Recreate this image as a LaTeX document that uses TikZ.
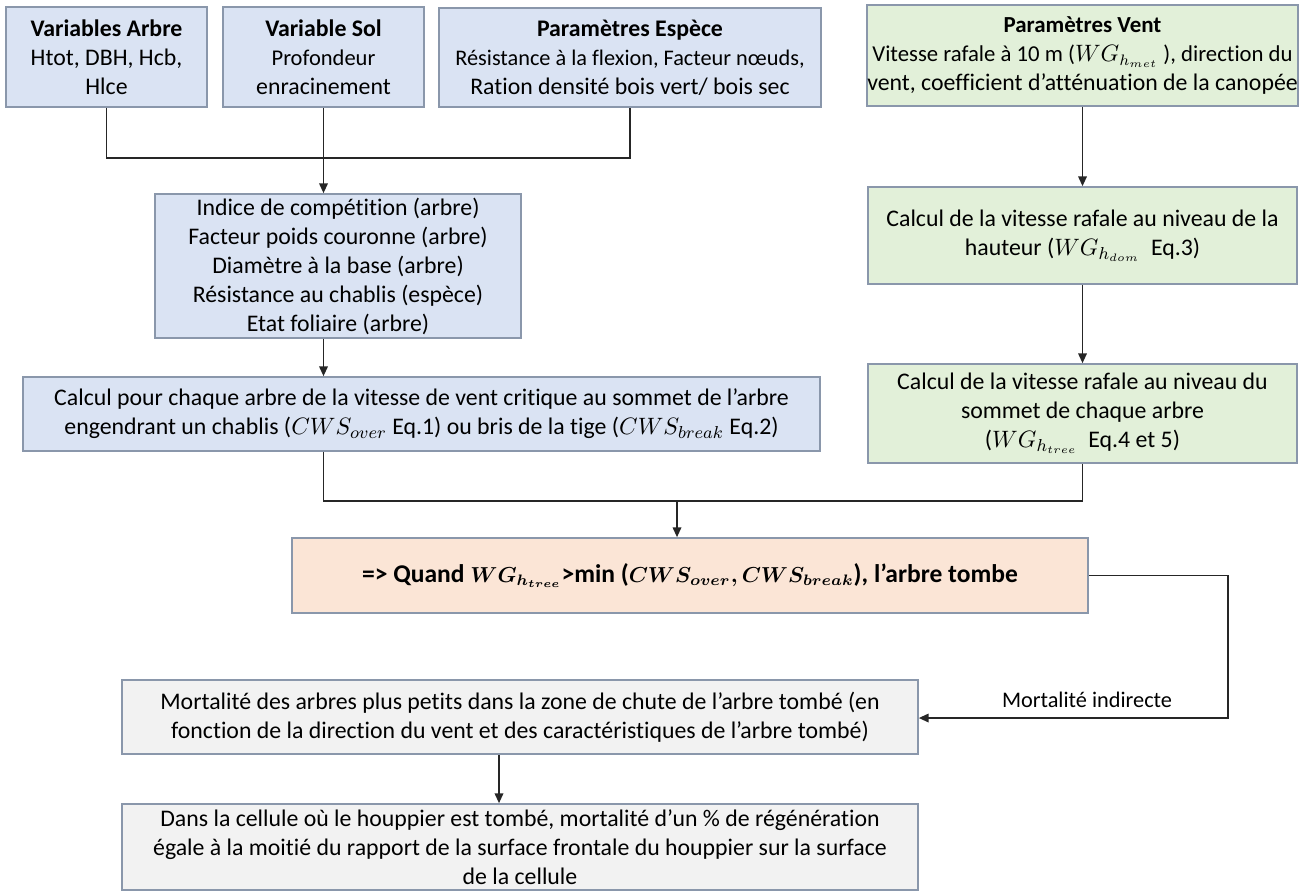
\documentclass[tikz,border=0pt]{standalone}
\usepackage{fontspec}
\setmainfont{Carlito}[Ligatures=NoCommon]
\usepackage{amsmath}
\usepackage{tikz}
\usetikzlibrary{arrows.meta}
\definecolor{bleuboite}{HTML}{DAE3F3}
\definecolor{vertboite}{HTML}{E2F0D9}
\definecolor{orangeboite}{HTML}{FBE5D6}
\definecolor{grisboite}{HTML}{F2F2F2}
\definecolor{bordboite}{HTML}{8A97AB}
\newcommand{\px}{0.462pt}
\newcommand{\petit}{\fontsize{10.4}{13.4}\selectfont}
\newcommand{\petitmath}{\fontsize{9.8}{13.4}\selectfont}

\begin{document}
\begin{tikzpicture}[x=0.462pt,y=-0.462pt,
    boite/.style={draw=bordboite,line width=0.8pt,align=center,inner sep=0pt,font=\fontsize{11}{13.4}\selectfont},
    lien/.style={line width=0.6pt,color=black!85},
    fleche/.style={lien,-{Triangle[length=4.5pt,width=4pt]}}]
    \useasboundingbox (0,0) rectangle (1301,892);
    \node[boite,fill=bleuboite,minimum width=201*\px,minimum height=100*\px](arbre)at(106.5,57){\textbf{Variables Arbre}\\Htot, DBH, Hcb,\\Hlce};
    \node[boite,fill=bleuboite,minimum width=201*\px,minimum height=100*\px](sol)at(323.5,57){\textbf{Variable Sol}\\\petit Profondeur\\enracinement};
    \node[boite,fill=bleuboite,minimum width=382*\px,minimum height=99*\px](espece)at(630,57.5){\textbf{Paramètres Espèce}\\\fontsize{10.3}{13.4}\selectfont Résistance à la flexion, Facteur nœuds,\\Ration densité bois vert/ bois sec};
    \node[boite,fill=vertboite,minimum width=429*\px,minimum height=101*\px](vent)at(1082.5,55.5){\fontsize{10.6}{13.4}\selectfont\textbf{Paramètres Vent}\\\fontsize{10.5}{13.4}\selectfont Vitesse rafale à 10 m ($WG_{h_{met}}$ ), direction du\\vent, coefficient d’atténuation de la canopée};
    \node[boite,fill=bleuboite,minimum width=366*\px,minimum height=144*\px](indices)at(338,266){Indice de compétition (arbre)\\Facteur poids couronne (arbre)\\Diamètre à la base (arbre)\\Résistance au chablis (espèce)\\Etat foliaire (arbre)};
    \node[boite,fill=bleuboite,minimum width=797*\px,minimum height=74*\px](critique)at(421.5,414){Calcul pour chaque arbre de la vitesse de vent critique au sommet de l’arbre\\engendrant un chablis ($CWS_{over}$ Eq.1) ou bris de la tige ($CWS_{break}$ Eq.2)};
    \node[boite,fill=vertboite,minimum width=429*\px,minimum height=97*\px](hauteur)at(1082.5,235.5){Calcul de la vitesse rafale au niveau de la\\hauteur ($WG_{h_{dom}}$\ \ Eq.3)};
    \node[boite,fill=vertboite,minimum width=429*\px,minimum height=99*\px](sommet)at(1082.5,413.5){Calcul de la vitesse rafale au niveau du\\sommet de chaque arbre\\($WG_{h_{tree}}$\ \ Eq.4 et 5)};
    \node[boite,fill=orangeboite,minimum width=796*\px,minimum height=75*\px,font=\fontsize{11.8}{15}\selectfont\bfseries\boldmath](chute)at(690,575.5){=\textgreater{} Quand {\petitmath$WG_{h_{tree}}$}\textgreater{}min ({\petitmath$CWS_{over}, CWS_{break}$}), l’arbre tombe};
    \node[boite,fill=grisboite,minimum width=796*\px,minimum height=74*\px](petits)at(520,717){Mortalité des arbres plus petits dans la zone de chute de l’arbre tombé (en\\fonction de la direction du vent et des caractéristiques de l’arbre tombé)};
    \node[boite,fill=grisboite,minimum width=796*\px,minimum height=86*\px](regen)at(520,847){Dans la cellule où le houppier est tombé, mortalité d’un \% de régénération\\égale à la moitié du rapport de la surface frontale du houppier sur la surface\\de la cellule};
    \node[font=\fontsize{10.3}{12}\selectfont](indirecte)at(1087,700){Mortalité indirecte};
    \coordinate(jonc1)at(0,158);
    \coordinate(jonc2)at(677,501);
    \coordinate(retour)at(1228,718);
    \coordinate(fk)at(499,0);
    \draw[lien](arbre.south)--(arbre.south|-jonc1)-|(espece.south);
    \draw[fleche](sol.south)--(sol.south|-indices.north);
    \draw[fleche](sol.south|-indices.south)--(sol.south|-critique.north);
    \draw[fleche](vent.south)--(hauteur.north);
    \draw[fleche](hauteur.south)--(sommet.north);
    \draw[lien](sol.south|-critique.south)--(sol.south|-jonc2)-|(sommet.south);
    \draw[fleche](jonc2)--(jonc2|-chute.north);
    \draw[fleche](chute.east)-|(retour)--(petits.east|-retour);
    \draw[fleche](petits.south-|fk)--(regen.north-|fk);
\end{tikzpicture}
\end{document}
